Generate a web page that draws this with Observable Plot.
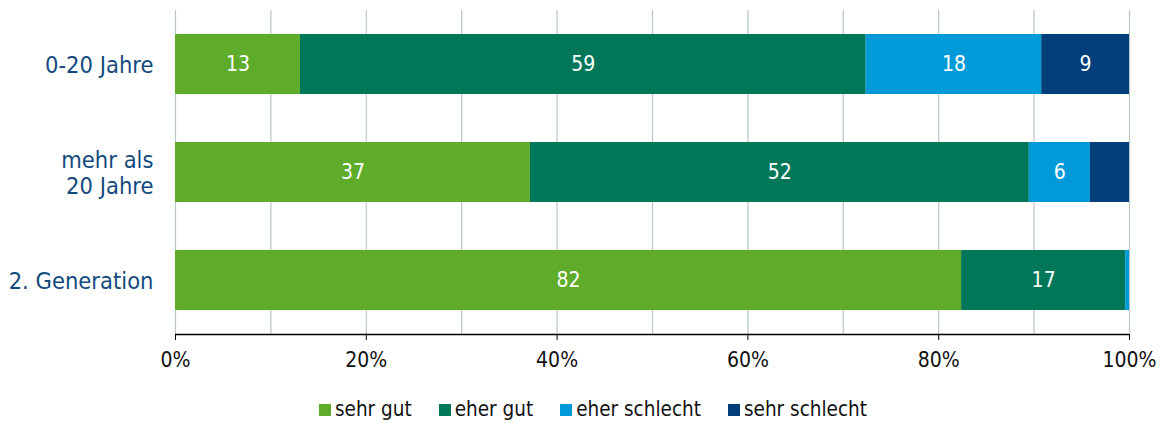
<!DOCTYPE html>
<html>
<head>
<meta charset="utf-8">
<script src="https://cdn.jsdelivr.net/npm/d3@7"></script>
<script src="https://cdn.jsdelivr.net/npm/@observablehq/plot@0.6"></script>
<style>
  body { margin: 0; background: #fff; font-family: "DejaVu Sans Condensed", "DejaVu Sans", sans-serif; }
  #legend { display: flex; justify-content: center; gap: 27px; font-size: 20.5px; line-height: 24px; color: #111; padding-left: 23px; margin-top: 12px; }
  #legend span.sw { display: inline-block; width: 12px; height: 12px; margin-right: 4px; vertical-align: 0px; }
</style>
</head>
<body>
<div id="chart"></div>
<div id="legend"></div>
<script>
const groups = ["0-20 Jahre", "mehr als\n20 Jahre", "2. Generation"];
const categories = ["sehr gut", "eher gut", "eher schlecht", "sehr schlecht"];
const colors = ["#5eac29", "#007759", "#009ad8", "#003f7a"];
const sehrGut = [13.1, 37.2, 82.4];
const eherGut = [59.3, 52.3, 17.2];
const eherSchlecht = [18.4, 6.4, 0.4];
const sehrSchlecht = [9.2, 4.1, 0.0];
const series = [sehrGut, eherGut, eherSchlecht, sehrSchlecht];
const xTicks = [0, 20, 40, 60, 80, 100];
const gridTicks = [0, 10, 20, 30, 40, 50, 60, 70, 80, 90, 100];

const data = [];
groups.forEach((g, i) => {
  categories.forEach((c, j) => {
    data.push({group: g, cat: c, value: series[j][i]});
  });
});

const chart = Plot.plot({
  width: 1163,
  height: 385,
  marginLeft: 175,
  marginRight: 34,
  marginTop: 10,
  marginBottom: 51,
  style: {fontFamily: '"DejaVu Sans Condensed", "DejaVu Sans", sans-serif', background: "#fff"},
  x: {domain: [0, 100], label: null},
  y: {domain: groups, paddingInner: 0.444, paddingOuter: 0.222, axis: null, label: null},
  color: {domain: categories, range: colors},
  marks: [
    Plot.gridX({ticks: gridTicks, stroke: "#b9c6c6", strokeOpacity: 1, strokeWidth: 1.2}),
    Plot.barX(data, Plot.stackX({x: "value", y: "group", fill: "cat", z: "cat", order: categories})),
    Plot.text(data.filter(d => d.value >= 5), Plot.stackX({x: "value", y: "group", z: "cat", text: d => String(Math.round(d.value)), order: categories, fill: "white", fontSize: 21})),
    Plot.ruleY([groups[2]], {x1: 0, x2: 100, dy: 54, stroke: "#000", strokeWidth: 1.6}),
    Plot.axisX({ticks: xTicks, tickFormat: d => d + "%", tickSize: 6, tickPadding: 12, fontSize: 21, color: "#111", stroke: "#000", label: null}),
    Plot.axisY({tickSize: 0, tickPadding: 22, fontSize: 23.5, color: "#134a7d", lineHeight: 1.1, label: null})
  ]
});
document.getElementById("chart").appendChild(chart);

const leg = document.getElementById("legend");
categories.forEach((c, j) => {
  const item = document.createElement("div");
  item.innerHTML = `<span class="sw" style="background:${colors[j]}"></span>${c}`;
  leg.appendChild(item);
});
</script>
</body>
</html>
